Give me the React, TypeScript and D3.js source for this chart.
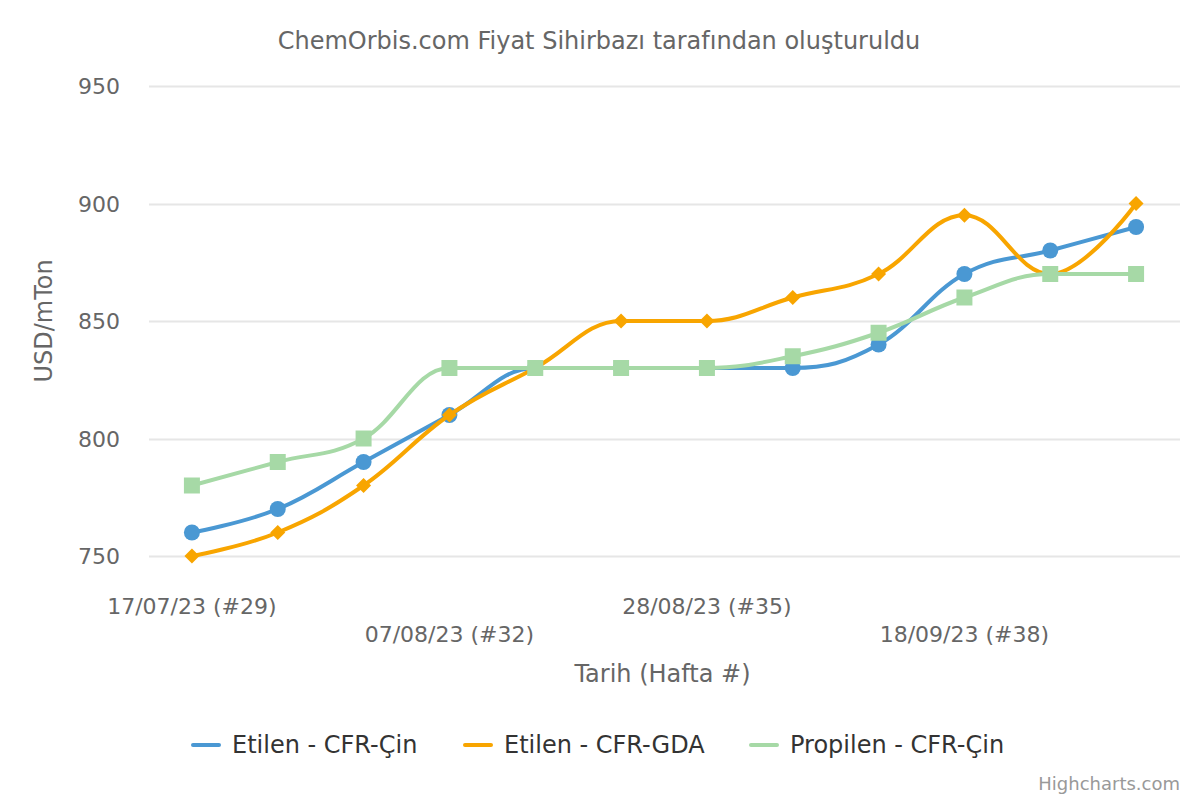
import { useEffect, useRef } from 'react'
import * as d3 from 'd3'

const weeks = ['17/07/23 (#29)', '24/07/23 (#30)', '31/07/23 (#31)', '07/08/23 (#32)', '14/08/23 (#33)', '21/08/23 (#34)',
  '28/08/23 (#35)', '04/09/23 (#36)', '11/09/23 (#37)', '18/09/23 (#38)', '25/09/23 (#39)', '02/10/23 (#40)']
const etilenCin = [760, 770, 790, 810, 830, 830, 830, 830, 840, 870, 880, 890]
const etilenGda = [750, 760, 780, 810, 830, 850, 850, 860, 870, 895, 870, 900]
const propilenCin = [780, 790, 800, 830, 830, 830, 830, 835, 845, 860, 870, 870]
const yTicks = [750, 800, 850, 900, 950]

const seriesList = [
  { name: 'Etilen - CFR-Çin', values: etilenCin, color: '#4a98d3', marker: 'circle' },
  { name: 'Etilen - CFR-GDA', values: etilenGda, color: '#f8a500', marker: 'diamond' },
  { name: 'Propilen - CFR-Çin', values: propilenCin, color: '#a6d9a6', marker: 'square' },
]

const FONT = '"DejaVu Sans", sans-serif'

// Highcharts-like spline (smoothing 1.5, no false extremes)
function splineCurve(context: any) {
  let xs: number[] = []
  let ys: number[] = []
  return {
    areaStart() {},
    areaEnd() {},
    lineStart() { xs = []; ys = [] },
    point(x: number, y: number) { xs.push(+x); ys.push(+y) },
    lineEnd() {
      const n = xs.length
      const smoothing = 1.5
      const denom = smoothing + 1
      const rcx: (number | undefined)[] = []
      const rcy: (number | undefined)[] = []
      for (let i = 0; i < n; i++) {
        const px = xs[i], py = ys[i]
        if (i === 0) { context.moveTo(px, py); continue }
        let lcx: number | undefined
        let lcy: number | undefined
        if (i < n - 1) {
          const lx = xs[i - 1], ly = ys[i - 1], nx = xs[i + 1], ny = ys[i + 1]
          let leftContX = (smoothing * px + lx) / denom
          let leftContY = (smoothing * py + ly) / denom
          let rightContX = (smoothing * px + nx) / denom
          let rightContY = (smoothing * py + ny) / denom
          let correction = 0
          if (rightContX !== leftContX) {
            correction = ((rightContY - leftContY) * (rightContX - px)) / (rightContX - leftContX) + py - rightContY
          }
          leftContY += correction
          rightContY += correction
          if (leftContY > ly && leftContY > py) {
            leftContY = Math.max(ly, py); rightContY = 2 * py - leftContY
          } else if (leftContY < ly && leftContY < py) {
            leftContY = Math.min(ly, py); rightContY = 2 * py - leftContY
          }
          if (rightContY > ny && rightContY > py) {
            rightContY = Math.max(ny, py); leftContY = 2 * py - rightContY
          } else if (rightContY < ny && rightContY < py) {
            rightContY = Math.min(ny, py); leftContY = 2 * py - rightContY
          }
          lcx = leftContX; lcy = leftContY
          rcx[i] = rightContX; rcy[i] = rightContY
        }
        context.bezierCurveTo(
          rcx[i - 1] ?? xs[i - 1], rcy[i - 1] ?? ys[i - 1],
          lcx ?? px, lcy ?? py,
          px, py
        )
      }
    },
  }
}

export default function App() {
  const svgRef = useRef<SVGSVGElement>(null)

  useEffect(() => {
    if (!svgRef.current) return
    document.body.style.margin = '0'
    const svg = d3.select(svgRef.current)
    svg.selectAll('*').remove()

    const width = 1200
    const height = 800
    const plot = { left: 149, right: 1180, top: 86, bottom: 556 }

    svg.append('rect').attr('width', width).attr('height', height).attr('fill', '#ffffff')

    const x = d3.scalePoint<number>()
      .domain(d3.range(weeks.length))
      .range([plot.left, plot.right - 1])
      .padding(0.5)
    const y = d3.scaleLinear().domain([750, 950]).range([plot.bottom, plot.top])

    // title
    svg.append('text')
      .attr('x', 599).attr('y', 49)
      .attr('text-anchor', 'middle')
      .attr('font-family', FONT).attr('font-size', 24)
      .attr('fill', '#666666')
      .text('ChemOrbis.com Fiyat Sihirbazı tarafından oluşturuldu')

    // grid
    const grid = svg.append('g')
    grid.selectAll('line')
      .data(yTicks)
      .join('line')
      .attr('x1', plot.left).attr('x2', plot.right)
      .attr('y1', d => Math.round(y(d)) + 0.5).attr('y2', d => Math.round(y(d)) + 0.5)
      .attr('stroke', '#e6e6e6').attr('stroke-width', 2)

    // y labels
    svg.append('g').selectAll('text')
      .data(yTicks)
      .join('text')
      .attr('x', 120).attr('y', d => y(d) + 8)
      .attr('text-anchor', 'end')
      .attr('font-family', FONT).attr('font-size', 22)
      .attr('fill', '#666666')
      .text(d => d)

    svg.append('text')
      .attr('transform', `translate(52,${(plot.top + plot.bottom) / 2}) rotate(-90)`)
      .attr('text-anchor', 'middle')
      .attr('font-family', FONT).attr('font-size', 24)
      .attr('fill', '#666666')
      .text('USD/mTon')

    // x labels, every 3rd, staggered
    const shown = d3.range(0, weeks.length, 3)
    svg.append('g').selectAll('text')
      .data(shown)
      .join('text')
      .attr('x', d => x(d)!)
      .attr('y', (d, i) => (i % 2 === 0 ? 614 : 642))
      .attr('text-anchor', 'middle')
      .attr('font-family', FONT).attr('font-size', 22)
      .attr('fill', '#666666')
      .text(d => weeks[d])

    svg.append('text')
      .attr('x', (plot.left + plot.right) / 2 - 2).attr('y', 682)
      .attr('text-anchor', 'middle')
      .attr('font-family', FONT).attr('font-size', 24)
      .attr('fill', '#666666')
      .text('Tarih (Hafta #)')

    // series
    const line = d3.line<number>()
      .x((d, i) => x(i)!)
      .y(d => y(d))
      .curve(splineCurve as any)

    const r = 8
    seriesList.forEach(s => {
      const g = svg.append('g')
      g.append('path')
        .attr('d', line(s.values))
        .attr('fill', 'none')
        .attr('stroke', s.color)
        .attr('stroke-width', 4)
        .attr('stroke-linejoin', 'round')
        .attr('stroke-linecap', 'round')

      const pts = g.selectAll('.pt')
        .data(s.values)
        .join(s.marker === 'circle' ? 'circle' : 'path')
        .attr('fill', s.color)
      if (s.marker === 'circle') {
        pts.attr('cx', (d, i) => x(i)!).attr('cy', d => y(d)).attr('r', r)
      } else if (s.marker === 'square') {
        pts.attr('d', (d, i) => {
          const cx = x(i)!, cy = y(d)
          return `M${cx - r},${cy - r}H${cx + r}V${cy + r}H${cx - r}Z`
        })
      } else {
        const rd = 7.5
        pts.attr('d', (d, i) => {
          const cx = x(i)!, cy = y(d)
          return `M${cx},${cy - rd}L${cx + rd},${cy}L${cx},${cy + rd}L${cx - rd},${cy}Z`
        })
      }
    })

    // legend
    const legendX = [191, 463, 749]
    const legend = svg.append('g')
    seriesList.forEach((s, i) => {
      legend.append('line')
        .attr('x1', legendX[i] + 2).attr('x2', legendX[i] + 28)
        .attr('y1', 745).attr('y2', 745)
        .attr('stroke', s.color).attr('stroke-width', 4)
        .attr('stroke-linecap', 'round')
      legend.append('text')
        .attr('x', legendX[i] + 41).attr('y', 753)
        .attr('font-family', FONT).attr('font-size', 24)
        .attr('fill', '#333333')
        .text(s.name)
    })

    svg.append('text')
      .attr('x', 1180).attr('y', 790)
      .attr('text-anchor', 'end')
      .attr('font-family', FONT).attr('font-size', 18)
      .attr('fill', '#999999')
      .text('Highcharts.com')
  }, [])

  return (
    <svg ref={svgRef} width={1200} height={800} style={{ position: 'absolute', left: 0, top: 0, display: 'block' }} />
  )
}
